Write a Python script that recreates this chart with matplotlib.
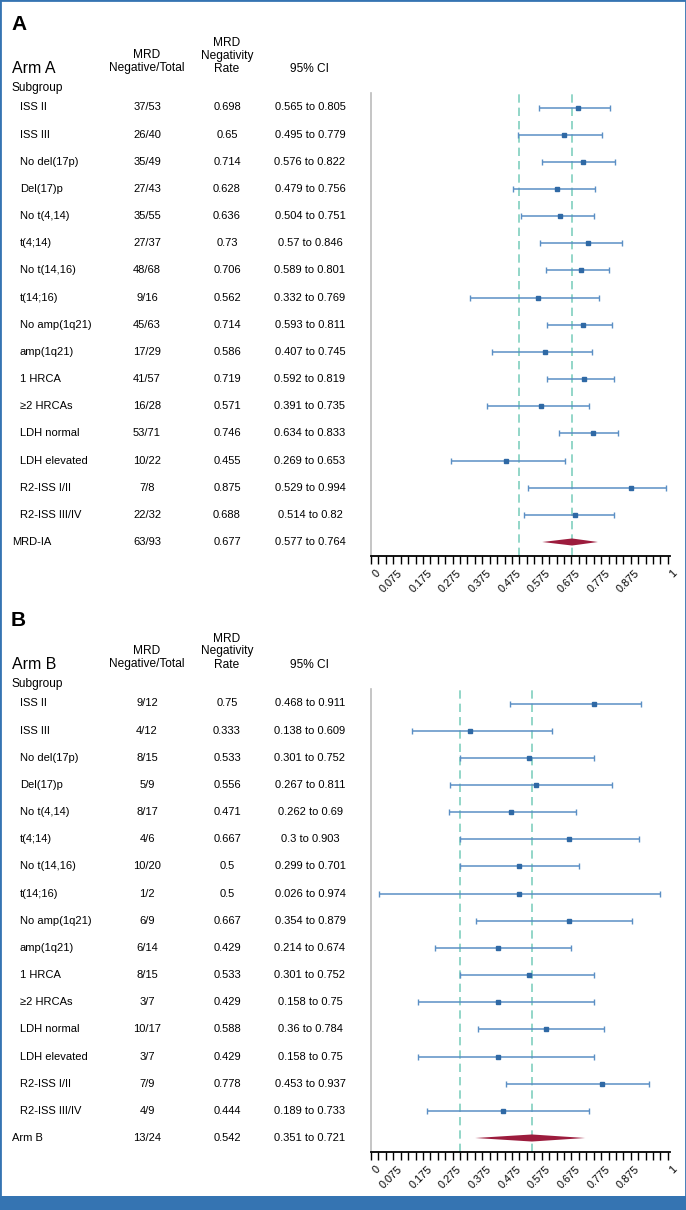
import matplotlib
matplotlib.use("Agg")
import matplotlib.pyplot as plt
import matplotlib.transforms as mtransforms
from matplotlib.patches import Rectangle, Polygon

plt.rcParams['font.family'] = ['Liberation Sans', 'DejaVu Sans']

subgroups = ["ISS II", "ISS III", "No del(17p)", "Del(17)p", "No t(4,14)", "t(4;14)",
             "No t(14,16)", "t(14;16)", "No amp(1q21)", "amp(1q21)", "1 HRCA", "≥2 HRCAs",
             "LDH normal", "LDH elevated", "R2-ISS I/II", "R2-ISS III/IV"]

# Arm A
a_counts = ["37/53", "26/40", "35/49", "27/43", "35/55", "27/37", "48/68", "9/16",
            "45/63", "17/29", "41/57", "16/28", "53/71", "10/22", "7/8", "22/32"]
a_rate = [0.698, 0.65, 0.714, 0.628, 0.636, 0.73, 0.706, 0.562, 0.714, 0.586,
          0.719, 0.571, 0.746, 0.455, 0.875, 0.688]
a_lo = [0.565, 0.495, 0.576, 0.479, 0.504, 0.57, 0.589, 0.332, 0.593, 0.407,
        0.592, 0.391, 0.634, 0.269, 0.529, 0.514]
a_hi = [0.805, 0.779, 0.822, 0.756, 0.751, 0.846, 0.801, 0.769, 0.811, 0.745,
        0.819, 0.735, 0.833, 0.653, 0.994, 0.82]
a_total = ("MRD-IA", "63/93", 0.677, 0.577, 0.764)
a_refs = [0.5, 0.677]

# Arm B
b_counts = ["9/12", "4/12", "8/15", "5/9", "8/17", "4/6", "10/20", "1/2",
            "6/9", "6/14", "8/15", "3/7", "10/17", "3/7", "7/9", "4/9"]
b_rate = [0.75, 0.333, 0.533, 0.556, 0.471, 0.667, 0.5, 0.5, 0.667, 0.429,
          0.533, 0.429, 0.588, 0.429, 0.778, 0.444]
b_lo = [0.468, 0.138, 0.301, 0.267, 0.262, 0.3, 0.299, 0.026, 0.354, 0.214,
        0.301, 0.158, 0.36, 0.158, 0.453, 0.189]
b_hi = [0.911, 0.609, 0.752, 0.811, 0.69, 0.903, 0.701, 0.974, 0.879, 0.674,
        0.752, 0.75, 0.784, 0.75, 0.937, 0.733]
b_total = ("Arm B", "13/24", 0.542, 0.351, 0.721)
b_refs = [0.3, 0.542]

tick_labels = ["0", "0.075", "0.175", "0.275", "0.375", "0.475", "0.575",
               "0.675", "0.775", "0.875", "1"]

W, H = 686, 1210
fig = plt.figure(figsize=(W / 100, H / 100), dpi=100)

ERR = "#5b8fc5"
PT = "#2f69a5"
DIAM = "#9c1c3d"
REF = "#80cfbf"
BLUE = "#3574b2"


def fy(py):
    return 1 - py / H


def fx(px):
    return px / W


def panel(letter, arm, counts, rate, lo, hi, total, refs, top_px, row0_px, axis_px):
    n = len(subgroups)
    step = (axis_px - 14 - row0_px) / n
    y_top = -(row0_px - top_px) / step
    y_bot = n + (axis_px - (row0_px + n * step)) / step
    ax = fig.add_axes([fx(371), fy(axis_px), fx(670) - fx(371), (axis_px - top_px) / H])
    ax.set_xlim(0, 1.007)
    ax.set_ylim(y_bot, y_top)
    for s in ["top", "right"]:
        ax.spines[s].set_visible(False)
    ax.spines["left"].set_color("#bbbbbb")
    ax.spines["left"].set_linewidth(1.2)
    ax.spines["bottom"].set_linewidth(1.3)
    ax.set_yticks([])
    ax.set_xticks([i * 0.025 for i in range(41)])
    ax.set_xticklabels([])
    ax.tick_params(axis="x", length=5.5, width=1, direction="out")
    for lab in tick_labels:
        v = float(lab)
        ax.text(v + 0.013, y_bot + 0.45, lab, rotation=45, ha="right", va="top",
                rotation_mode="anchor", fontsize=7.8)

    for r in refs:
        ax.axvline(r, color=REF, ls=(0, (5, 3)), lw=1.2, zorder=1)

    ys = list(range(n))
    xerr = [[r - l for r, l in zip(rate, lo)], [h - r for r, h in zip(rate, hi)]]
    ax.errorbar(rate, ys, xerr=xerr, fmt="none", ecolor=ERR, elinewidth=1.1,
                capsize=2.2, capthick=1, zorder=3)
    ax.plot(rate, ys, "s", color=PT, ms=3.5, zorder=4)

    name, cnt, est, tlo, thi = total
    ax.add_patch(Polygon([[tlo, n], [est, n - 0.13], [thi, n], [est, n + 0.13]],
                         closed=True, color=DIAM, zorder=4, lw=0))

    tr = mtransforms.blended_transform_factory(fig.transFigure, ax.transData)
    fs = 8
    for i, sg in enumerate(subgroups):
        ax.text(fx(20), i, sg, transform=tr, fontsize=fs, va="center", ha="left")
        ax.text(fx(147), i, counts[i], transform=tr, fontsize=fs, va="center", ha="center")
        ax.text(fx(227), i, f"{rate[i]:g}", transform=tr, fontsize=fs, va="center", ha="center")
        ax.text(fx(310), i, f"{lo[i]:g} to {hi[i]:g}", transform=tr, fontsize=fs,
                va="center", ha="center")
    ax.text(fx(12), n, name, transform=tr, fontsize=fs, va="center", ha="left")
    ax.text(fx(147), n, cnt, transform=tr, fontsize=fs, va="center", ha="center")
    ax.text(fx(227), n, f"{est:g}", transform=tr, fontsize=fs, va="center", ha="center")
    ax.text(fx(310), n, f"{tlo:g} to {thi:g}", transform=tr, fontsize=fs,
            va="center", ha="center")

    # headers
    h = row0_px
    hs = 8.6
    fig.text(fx(11), fy(h - 83), letter, fontsize=15, fontweight="bold", va="center")
    fig.text(fx(12), fy(h - 39), arm, fontsize=11.5, va="center")
    fig.text(fx(12), fy(h - 19), "Subgroup", fontsize=hs, va="center")
    fig.text(fx(147), fy(h - 39), "Negative/Total", fontsize=hs, va="center", ha="center")
    fig.text(fx(147), fy(h - 52), "MRD", fontsize=hs, va="center", ha="center")
    fig.text(fx(227), fy(h - 39), "Rate", fontsize=hs, va="center", ha="center")
    fig.text(fx(227), fy(h - 52), "Negativity", fontsize=hs, va="center", ha="center")
    fig.text(fx(227), fy(h - 65), "MRD", fontsize=hs, va="center", ha="center")
    fig.text(fx(310), fy(h - 39), "95% CI", fontsize=hs, va="center", ha="center")


panel("A", "Arm A", a_counts, a_rate, a_lo, a_hi, a_total, a_refs, 93, 107.5, 556)
panel("B", "Arm B", b_counts, b_rate, b_lo, b_hi, b_total, b_refs, 689, 703.5, 1152)

# frame and bottom bar
fig.patches.append(Rectangle((0, 0), 1, 1, transform=fig.transFigure, fill=False,
                             edgecolor=BLUE, lw=2))
fig.patches.append(Rectangle((0, 0), 1, 14 / H, transform=fig.transFigure,
                             facecolor=BLUE, edgecolor="none"))

fig.savefig("out.png", dpi=100)
